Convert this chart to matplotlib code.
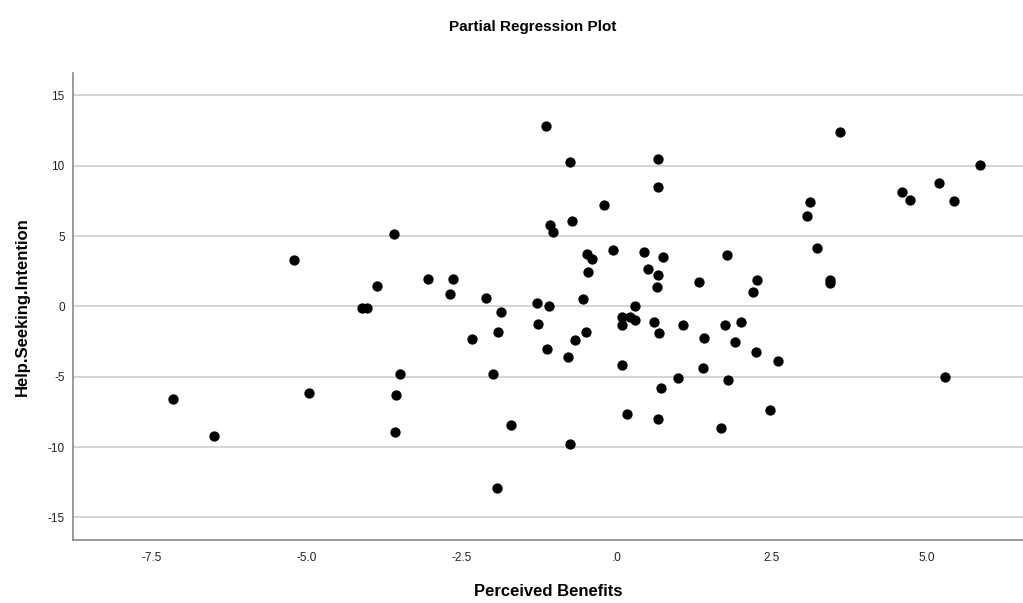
import matplotlib
matplotlib.use('Agg')
import matplotlib.pyplot as plt

plt.rcParams['font.family'] = ['Liberation Sans', 'DejaVu Sans']

# Partial regression residuals
benefits = [-7.16, -6.50, -5.20, -4.96, -4.11, -4.03, -3.87, -3.59, -3.56, -3.58,
            -3.49, -3.04, -2.69, -2.65, -2.33, -2.11, -2.00, -1.91, -1.87, -1.94,
            -1.71, -1.27, -1.28, -1.15, -1.13, -1.09, -1.08, -1.03, -0.75, -0.73,
            -0.79, -0.76, -0.68, -0.54, -0.50, -0.48, -0.40, -0.46, -0.21, -0.07,
            0.08, 0.08, 0.08, 0.16, 0.21, 0.30, 0.30, 0.44, 0.50, 0.60,
            0.67, 0.67, 0.66, 0.64, 0.68, 0.67, 0.71, 0.74, 0.98, 1.06,
            1.33, 1.39, 1.41, 1.68, 1.74, 1.78, 1.80, 1.91, 2.00, 2.19,
            2.26, 2.25, 2.47, 2.60, 3.06, 3.12, 3.23, 3.43, 3.43, 3.60,
            4.60, 4.72, 5.20, 5.29, 5.44, 5.86]
intention = [-6.59, -9.22, 3.32, -6.12, -0.11, -0.11, 1.42, 5.12, -6.28, -8.92,
             -4.80, 1.97, 0.90, 1.97, -2.28, 0.60, -4.77, -1.82, -0.36, -12.93,
             -8.40, -1.28, 0.25, 12.81, -2.99, 0.06, 5.81, 5.32, 10.25, 6.10,
             -3.58, -9.79, -2.35, 0.53, -1.78, 3.75, 3.37, 2.47, 7.19, 3.99,
             -4.17, -0.73, -1.32, -7.64, -0.78, -0.97, 0.00, 3.84, 2.66, -1.11,
             10.46, 8.52, 2.23, 1.35, -1.87, -8.01, -5.79, 3.54, -5.12, -1.30,
             1.76, -4.38, -2.21, -8.63, -1.32, 3.66, -5.22, -2.53, -1.09, 1.02,
             1.85, -3.22, -7.35, -3.89, 6.41, 7.43, 4.13, 1.85, 1.67, 12.41,
             8.14, 7.57, 8.75, -5.02, 7.52, 10.09]

x_ticks = [-7.5, -5.0, -2.5, 0.0, 2.5, 5.0]
x_labels = ['-7.5', '-5.0', '-2.5', '.0', '2.5', '5.0']
y_ticks = [15, 10, 5, 0, -5, -10, -15]
y_labels = ['15', '10', '5', '0', '-5', '-10', '-15']

fig = plt.figure(figsize=(10.23, 6.03), dpi=100)
ax = fig.add_axes([0.0714, 0.1045, 0.9286, 0.7745])

ax.scatter(benefits, intention, s=55, color='black', zorder=3, linewidths=0)

ax.set_xlim(-8.77, 6.55)
ax.set_ylim(-16.6, 16.6)
ax.set_xticks(x_ticks)
ax.set_xticklabels(x_labels)
ax.set_yticks(y_ticks)
ax.set_yticklabels(y_labels)
ax.tick_params(length=0, labelsize=8.5, colors='#222222', pad=6)
ax.tick_params(axis='x', pad=9)

ax.yaxis.grid(True, color='#d4d4d4', linewidth=1.4)
ax.set_axisbelow(True)
for side in ['top', 'right']:
    ax.spines[side].set_visible(False)
for side in ['left', 'bottom']:
    ax.spines[side].set_color('#888888')
    ax.spines[side].set_linewidth(1.2)

ax.set_xlabel('Perceived Benefits', fontsize=12, fontweight='bold', labelpad=14)
ax.set_ylabel('Help.Seeking.Intention', fontsize=12, fontweight='bold', labelpad=13)
fig.text(0.521, 0.955, 'Partial Regression Plot', ha='center', va='center',
         fontsize=11, fontweight='bold')

fig.savefig('out.png', dpi=100)
